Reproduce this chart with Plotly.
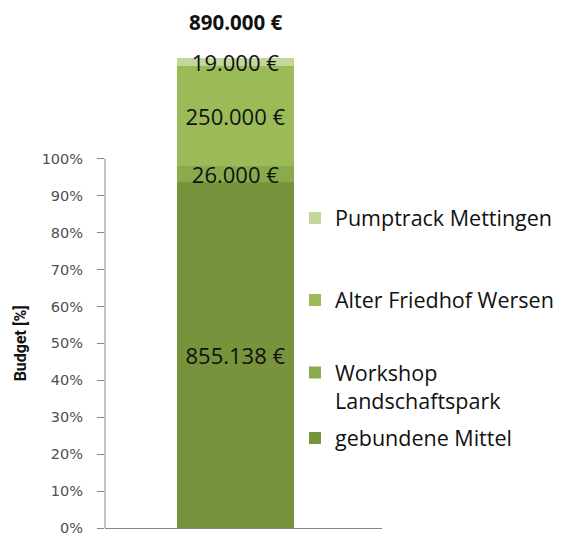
import plotly.graph_objects as go

# ---- data (bar heights, in % of axis) ----
category = ["Budget"]
series_names = ["gebundene Mittel", "Workshop<br>Landschaftspark", "Alter Friedhof Wersen", "Pumptrack Mettingen"]
series_pct = [93.8, 4.1, 27.2, 2.2]
series_labels = ["855.138 €", "26.000 €", "250.000 €", "19.000 €"]
total_label = "890.000 €"
tick_vals = [0, 10, 20, 30, 40, 50, 60, 70, 80, 90, 100]
tick_text = [f"{v}%" for v in tick_vals]
y_title = "Budget [%]"

colors = ["#77933C", "#8AAA4E", "#9BBB59", "#C3D69B"]
legend_ids = ["legend4", "legend3", "legend2", "legend"]
legend_y = [438, 367, 300, 218]

W, H = 568, 534
ML, MR = 105, 186
PW = W - ML - MR
fig = go.Figure()
for name, val, lab, col, lid in zip(series_names, series_pct, series_labels, colors, legend_ids):
    fig.add_trace(go.Bar(
        x=category, y=[val], name=name, text=[lab],
        texttemplate="%{text}", textposition="inside", insidetextanchor="middle",
        textangle=0, constraintext="none", cliponaxis=False,
        textfont=dict(family="Open Sans", size=22, color="#111111"),
        marker=dict(color=col, line=dict(width=0)),
        width=0.6, legend=lid, hoverinfo="skip",
    ))

legend_common = dict(
    xref="container", yref="container", x=295 / W, xanchor="left",
    yanchor="middle", bgcolor="rgba(0,0,0,0)", borderwidth=0,
    font=dict(family="Open Sans", size=21.5, color="#111111"),
)
layout_legends = {}
for lid, yc in zip(legend_ids, legend_y):
    d = dict(legend_common)
    if lid == "legend3":
        d.update(yanchor="top", valign="top", y=1 - (yc - 15) / H)
    else:
        d.update(y=1 - yc / H)
    layout_legends[lid] = d

fig.update_layout(
    width=W, height=H, barmode="stack",
    margin=dict(l=ML, r=MR, t=11, b=6, autoexpand=False),
    paper_bgcolor="white", plot_bgcolor="white",
    showlegend=True,
    xaxis=dict(type="category", range=[-0.67, 0.752], showline=True, linecolor="#868686",
               linewidth=1, showgrid=False, zeroline=False, showticklabels=False,
               ticks="", fixedrange=True),
    yaxis=dict(range=[0, 140], tickvals=tick_vals, ticktext=tick_text, ticks="outside",
               ticklen=7, tickcolor="#868686", showgrid=False, zeroline=False,
               showline=False, ticklabelstandoff=11, ticklabeloverflow="allow",
               tickfont=dict(family="DejaVu Sans", size=14.5, color="#505050")),
    shapes=[dict(type="line", xref="paper", yref="y", x0=0, x1=0, y0=-1, y1=100,
                 line=dict(color="#868686", width=1)),
            dict(type="line", xref="paper", yref="y", x0=1, x1=1, y0=0, y1=-1.2,
                 line=dict(color="#868686", width=1))],
    annotations=[
        dict(text=f"<b>{total_label}</b>", x=category[0], xref="x", yref="paper",
             y=(528 - 22) / 517, yanchor="middle", showarrow=False,
             font=dict(family="Open Sans", size=20.5, color="#111111")),
        dict(text=f"<b>{y_title}</b>", textangle=-90, xref="paper", x=(20 - ML) / PW,
             xanchor="center", yanchor="middle",
             yref="y", y=50, showarrow=False,
             font=dict(family="Liberation Sans Narrow, Roboto", size=16, color="#111111")),
    ],
    **layout_legends,
)
fig.write_html("out.html")
